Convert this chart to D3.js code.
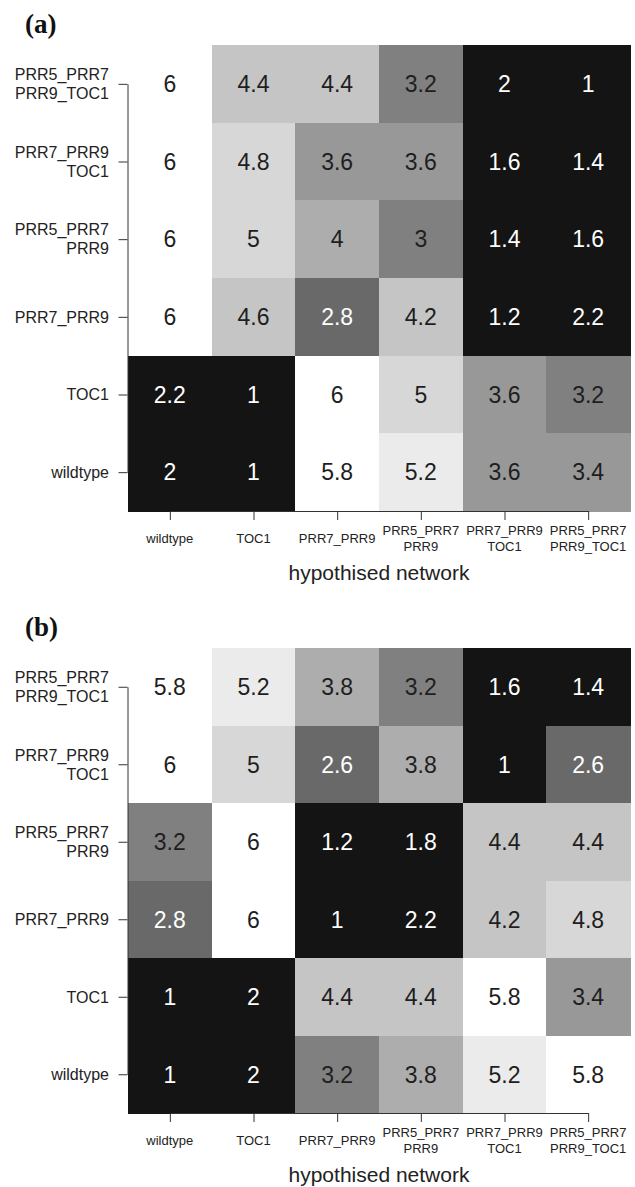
<!DOCTYPE html>
<html>
<head>
<meta charset="utf-8">
<script src="https://cdn.jsdelivr.net/npm/d3@7"></script>
<style>
  body { margin: 0; background: #fff; }
  svg { display: block; }
</style>
</head>
<body>
<div id="container"></div>
<script>
// labels, listed bottom to top for rows (wildtype at bottom)
const networks = ["wildtype", "TOC1", "PRR7_PRR9", "PRR5_PRR7\nPRR9", "PRR7_PRR9\nTOC1", "PRR5_PRR7\nPRR9_TOC1"];

// values per row, rows from top (PRR5_PRR7 PRR9_TOC1) to bottom (wildtype)
const valuesA = [
    [6, 4.4, 4.4, 3.2, 2, 1],
    [6, 4.8, 3.6, 3.6, 1.6, 1.4],
    [6, 5, 4, 3, 1.4, 1.6],
    [6, 4.6, 2.8, 4.2, 1.2, 2.2],
    [2.2, 1, 6, 5, 3.6, 3.2],
    [2, 1, 5.8, 5.2, 3.6, 3.4]
];
const valuesB = [
    [5.8, 5.2, 3.8, 3.2, 1.6, 1.4],
    [6, 5, 2.6, 3.8, 1, 2.6],
    [3.2, 6, 1.2, 1.8, 4.4, 4.4],
    [2.8, 6, 1, 2.2, 4.2, 4.8],
    [1, 2, 4.4, 4.4, 5.8, 3.4],
    [1, 2, 3.2, 3.8, 5.2, 5.8]
];
const panelLabels = ["(a)", "(b)"];
const xTitle = "hypothised network";

const greyBreaks = [2.5, 2.9, 3.3, 3.7, 4.1, 4.7, 5.1, 5.5];
const greys = ["#141414", "#696969", "#808080", "#989898", "#adadad", "#c4c5c4", "#d7d7d7", "#ebebeb", "#ffffff"];

const width = 635, height = 1187;
const font = "'Liberation Sans', Arial, Helvetica, sans-serif";

const svg = d3.select("#container").append("svg")
    .attr("width", width).attr("height", height)
    .attr("viewBox", `0 0 ${width} ${height}`);

const fill = d3.scaleThreshold().domain(greyBreaks).range(greys);

const left = 128, right = 630;
const rowsTopDown = networks.slice().reverse();

const xScale = d3.scaleBand().domain(networks).range([left, right]);

function drawPanel(values, label, top, bottom) {
    const g = svg.append("g");
    const yScale = d3.scaleBand().domain(rowsTopDown).range([top, bottom]);

    const cells = [];
    values.forEach((row, i) => row.forEach((v, j) => {
        cells.push({row: rowsTopDown[i], col: networks[j], v: v});
    }));

    g.selectAll("rect.cell")
        .data(cells)
        .enter().append("rect")
        .attr("class", "cell")
        .attr("x", d => xScale(d.col))
        .attr("y", d => yScale(d.row))
        .attr("width", xScale.bandwidth() + 0.6)
        .attr("height", yScale.bandwidth() + 0.6)
        .attr("shape-rendering", "crispEdges")
        .attr("fill", d => fill(d.v));

    g.selectAll("text.val")
        .data(cells)
        .enter().append("text")
        .attr("class", "val")
        .attr("x", d => xScale(d.col) + xScale.bandwidth() / 2)
        .attr("y", d => yScale(d.row) + yScale.bandwidth() / 2)
        .attr("dy", "0.36em")
        .attr("text-anchor", "middle")
        .style("font-family", font)
        .style("font-size", "23px")
        .attr("fill", d => d.v < 2.9 ? "#ffffff" : "#1e1e1e")
        .text(d => d.v);

    // R style axes: line only from first to last tick
    const xPoint = d3.scalePoint().domain(networks)
        .range([xScale(networks[0]) + xScale.bandwidth() / 2, xScale(networks[5]) + xScale.bandwidth() / 2]);
    const yPoint = d3.scalePoint().domain(rowsTopDown)
        .range([yScale(rowsTopDown[0]) + yScale.bandwidth() / 2, yScale(rowsTopDown[5]) + yScale.bandwidth() / 2]);

    const xAxis = g.append("g")
        .attr("transform", `translate(0, ${bottom})`)
        .call(d3.axisBottom(xPoint).tickSizeInner(9).tickSizeOuter(0).tickFormat(""));
    const yAxis = g.append("g")
        .attr("transform", `translate(${left - 0.5}, 0)`)
        .call(d3.axisLeft(yPoint).tickSizeInner(9).tickSizeOuter(0).tickFormat(""));
    [xAxis, yAxis].forEach(a => {
        a.select(".domain").attr("stroke", "#333");
        a.selectAll(".tick line").attr("stroke", "#333");
    });

    // x tick labels (possibly two lines)
    networks.forEach(n => {
        const lines = n.split("\n");
        const t = g.append("text")
            .attr("text-anchor", "middle")
            .style("font-family", font)
            .style("font-size", "13px")
            .attr("fill", "#222");
        lines.forEach((ln, k) => {
            t.append("tspan")
                .attr("x", xPoint(n))
                .attr("y", bottom + 27 + (k - (lines.length - 1) / 2) * 15.7)
                .attr("dy", "0.36em")
                .text(ln);
        });
    });

    // y tick labels
    rowsTopDown.forEach(n => {
        const lines = n.split("\n");
        const t = g.append("text")
            .attr("text-anchor", "end")
            .style("font-family", font)
            .style("font-size", "16px")
            .attr("fill", "#222");
        lines.forEach((ln, k) => {
            t.append("tspan")
                .attr("x", 109)
                .attr("y", yPoint(n) + (k - (lines.length - 1) / 2) * 19)
                .attr("dy", "0.36em")
                .text(ln);
        });
    });

    g.append("text")
        .attr("x", (xPoint.range()[0] + xPoint.range()[1]) / 2)
        .attr("y", bottom + 61)
        .attr("dy", "0.36em")
        .attr("text-anchor", "middle")
        .style("font-family", font)
        .style("font-size", "21px")
        .attr("fill", "#222")
        .text(xTitle);

    g.append("text")
        .attr("x", 25)
        .attr("y", top - 12)
        .style("font-family", "'Liberation Serif', 'Times New Roman', serif")
        .style("font-weight", "bold")
        .style("font-size", "27px")
        .attr("fill", "#111")
        .text(label);
}

drawPanel(valuesA, panelLabels[0], 45, 511);
drawPanel(valuesB, panelLabels[1], 648, 1113);
</script>
</body>
</html>
